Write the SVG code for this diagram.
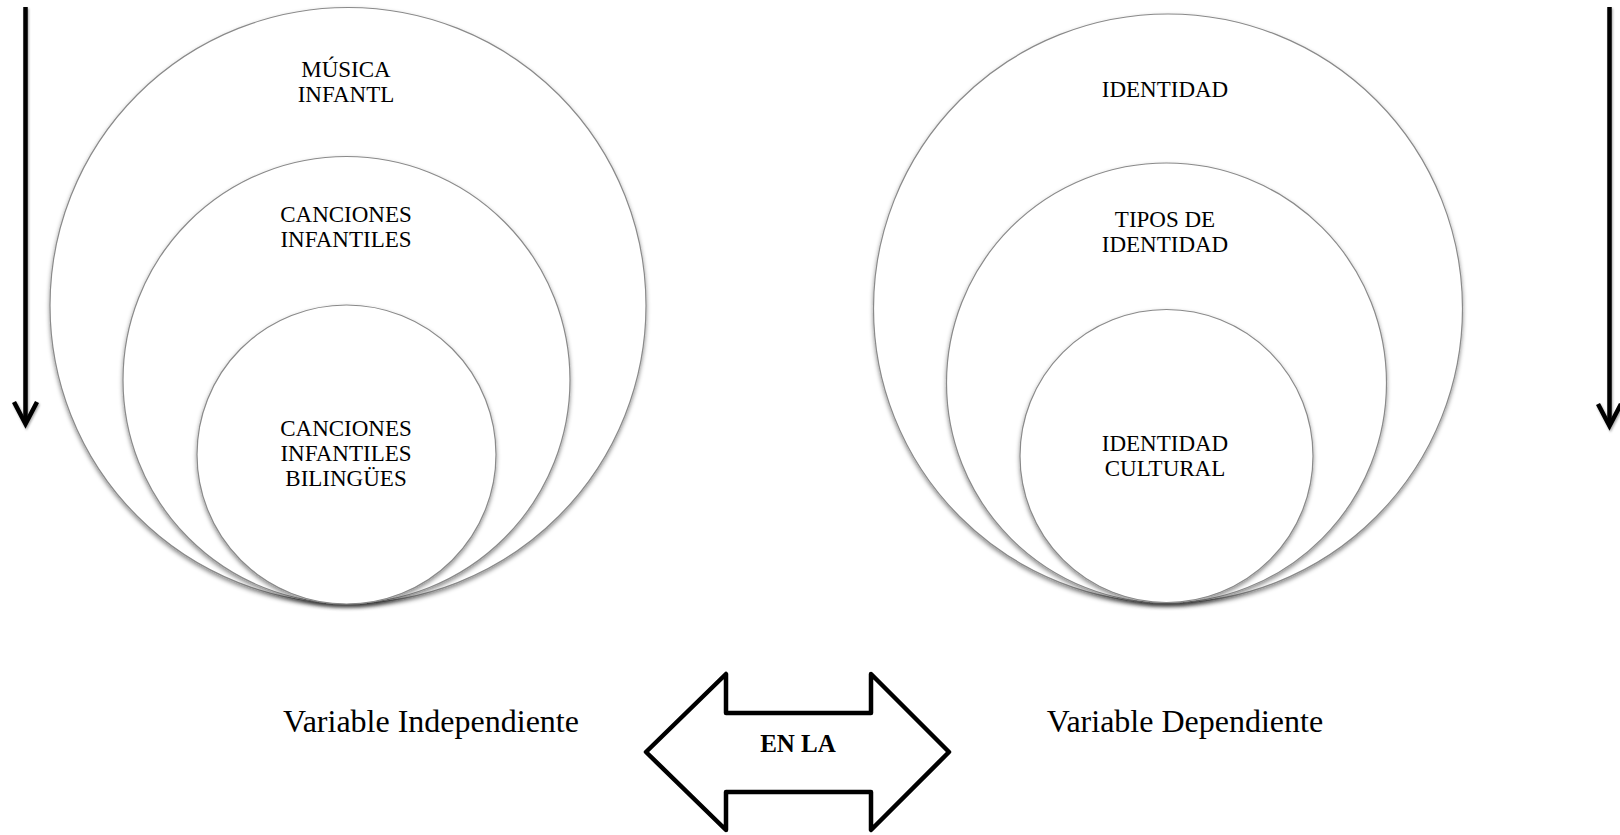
<svg xmlns="http://www.w3.org/2000/svg" width="1620" height="835" viewBox="0 0 1620 835">
<defs>
<filter id="sh" x="-10%" y="-10%" width="120%" height="125%">
<feDropShadow dx="0" dy="2.5" stdDeviation="2" flood-color="#000" flood-opacity="0.45"/>
</filter>
<filter id="ash" x="-50%" y="-5%" width="200%" height="110%">
<feDropShadow dx="1" dy="1.5" stdDeviation="1.2" flood-color="#000" flood-opacity="0.35"/>
</filter>
</defs>
<style>
.c{fill:#fff;stroke:#8a8a8a;stroke-width:1.2;filter:url(#sh)}
.t{font-family:"Liberation Serif","Times New Roman",serif;font-size:23px;fill:#000;text-anchor:middle}
.v{font-family:"Liberation Serif","Times New Roman",serif;font-size:32px;fill:#000;text-anchor:middle}
.b{font-family:"Liberation Serif","Times New Roman",serif;font-size:25px;font-weight:bold;fill:#000;text-anchor:middle}
.arr{fill:none;stroke:#000;stroke-width:4.5;filter:url(#ash)}
</style>
<rect width="1620" height="835" fill="#fff"/>

<g id="left-circles">
<g id="musica-infantil">
<circle class="c" cx="348" cy="305.5" r="298"/>
<text class="t" x="346" y="77">MÚSICA</text>
<text class="t" x="346" y="102">INFANTL</text>
</g>
<g id="canciones-infantiles">
<circle class="c" cx="346.5" cy="380" r="223.5"/>
<text class="t" x="346" y="222">CANCIONES</text>
<text class="t" x="346" y="247">INFANTILES</text>
</g>
<g id="canciones-bilingues">
<circle class="c" cx="346.5" cy="454.5" r="149.5"/>
<text class="t" x="346" y="436">CANCIONES</text>
<text class="t" x="346" y="461">INFANTILES</text>
<text class="t" x="346" y="486">BILINGÜES</text>
</g>
</g>

<g id="right-circles">
<g id="identidad">
<circle class="c" cx="1168" cy="308.5" r="294.5"/>
<text class="t" x="1165" y="97">IDENTIDAD</text>
</g>
<g id="tipos-identidad">
<circle class="c" cx="1166.5" cy="383" r="220"/>
<text class="t" x="1165" y="227">TIPOS DE</text>
<text class="t" x="1165" y="252">IDENTIDAD</text>
</g>
<g id="identidad-cultural">
<circle class="c" cx="1166.5" cy="456" r="146.5"/>
<text class="t" x="1165" y="451">IDENTIDAD</text>
<text class="t" x="1165" y="476">CULTURAL</text>
</g>
</g>

<g id="label-independiente">
<text class="v" x="431" y="732">Variable Independiente</text>
</g>
<g id="label-dependiente">
<text class="v" x="1185" y="732">Variable Dependiente</text>
</g>

<g id="en-la">
<path d="M646,752 L726,674 L726,713 L871,713 L871,674 L949,752 L871,830 L871,792 L726,792 L726,830 Z" fill="#fff" stroke="#000" stroke-width="4.5" stroke-linejoin="round"/>
<text class="b" x="798" y="752">EN LA</text>
</g>

<g id="connectors">
<g class="arr">
<line x1="25.5" y1="7" x2="25.5" y2="422"/>
<polyline points="14,402 25.5,424 37,402" stroke-linejoin="miter"/>
</g>
<g class="arr">
<line x1="1609.5" y1="7" x2="1609.5" y2="424"/>
<polyline points="1598,404 1609.5,426 1621,404" stroke-linejoin="miter"/>
</g>
</g>
</svg>
